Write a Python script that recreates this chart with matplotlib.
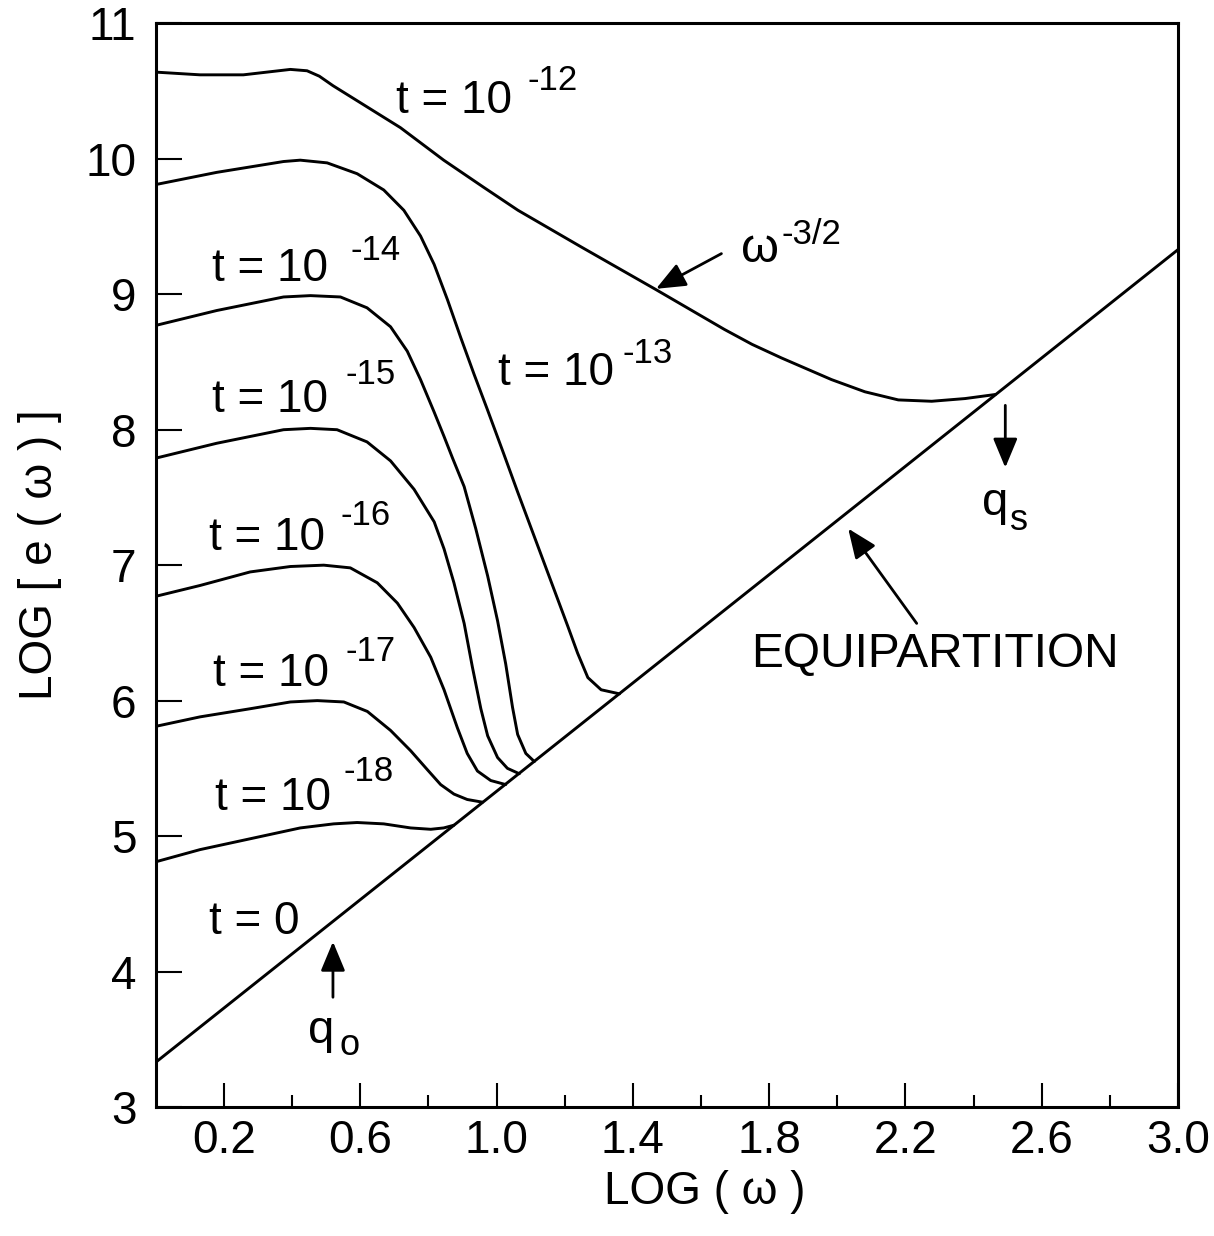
import numpy as np
import matplotlib.pyplot as plt
from matplotlib.ticker import FixedLocator

plt.rcParams['font.family'] = ['Liberation Sans', 'DejaVu Sans']

# spectra: x = log(omega), y = log(e(omega))
x_t12 = [0.0, 0.13, 0.257, 0.395, 0.444, 0.48, 0.52, 0.718, 0.845, 0.962, 1.063, 1.248,
         1.464, 1.669, 1.75, 1.836, 1.983, 2.081, 2.179, 2.277, 2.375, 2.464]
y_t12 = [10.64, 10.62, 10.62, 10.66, 10.65, 10.61, 10.54, 10.23, 9.99, 9.79, 9.62, 9.35,
         9.04, 8.74, 8.63, 8.53, 8.37, 8.28, 8.22, 8.21, 8.23, 8.26]

x_t13 = [0.0, 0.179, 0.375, 0.424, 0.503, 0.591, 0.669, 0.728, 0.777, 0.817, 0.856,
         0.895, 0.934, 0.973, 1.02, 1.062, 1.111, 1.16, 1.209, 1.238, 1.268, 1.307, 1.361]
y_t13 = [9.81, 9.90, 9.98, 9.99, 9.97, 9.89, 9.77, 9.62, 9.43, 9.22, 8.96,
         8.68, 8.41, 8.15, 7.83, 7.54, 7.21, 6.88, 6.55, 6.35, 6.17, 6.08, 6.05]

x_t14 = [0.0, 0.179, 0.375, 0.454, 0.542, 0.62, 0.689, 0.738, 0.777, 0.817, 0.846,
         0.871, 0.905, 0.939, 0.974, 1.003, 1.027, 1.047, 1.062, 1.086, 1.111]
y_t14 = [8.77, 8.88, 8.98, 8.99, 8.98, 8.90, 8.76, 8.58, 8.37, 8.13, 7.95,
         7.79, 7.58, 7.27, 6.92, 6.59, 6.27, 5.95, 5.75, 5.61, 5.55]

x_t15 = [0.0, 0.179, 0.375, 0.454, 0.532, 0.62, 0.689, 0.758, 0.817, 0.846, 0.875,
         0.905, 0.929, 0.954, 0.974, 1.003, 1.032, 1.067]
y_t15 = [7.79, 7.90, 8.00, 8.01, 8.00, 7.91, 7.77, 7.56, 7.32, 7.12, 6.87,
         6.57, 6.25, 5.94, 5.74, 5.58, 5.50, 5.46]

x_t16 = [0.0, 0.13, 0.277, 0.395, 0.493, 0.571, 0.65, 0.709, 0.758, 0.807, 0.846,
         0.885, 0.914, 0.944, 0.983, 1.027]
y_t16 = [6.77, 6.85, 6.95, 6.99, 7.00, 6.98, 6.87, 6.72, 6.54, 6.32, 6.08,
         5.80, 5.61, 5.48, 5.41, 5.38]

x_t17 = [0.0, 0.13, 0.277, 0.395, 0.474, 0.552, 0.621, 0.689, 0.748, 0.797, 0.836,
         0.875, 0.914, 0.959]
y_t17 = [5.81, 5.88, 5.94, 5.99, 6.00, 5.99, 5.92, 5.78, 5.63, 5.49, 5.38,
         5.31, 5.27, 5.25]

x_t18 = [0.0, 0.13, 0.277, 0.424, 0.522, 0.591, 0.669, 0.748, 0.807, 0.845, 0.875]
y_t18 = [4.81, 4.90, 4.98, 5.06, 5.09, 5.10, 5.09, 5.06, 5.05, 5.06, 5.08]

# t = 0 : equipartition line
x_equip = [0.0, 3.0]
y_equip = [3.33, 9.33]

curves = [(x_t12, y_t12), (x_t13, y_t13), (x_t14, y_t14), (x_t15, y_t15),
          (x_t16, y_t16), (x_t17, y_t17), (x_t18, y_t18), (x_equip, y_equip)]

exponents = ['-12', '-13', '-14', '-15', '-16', '-17', '-18']

x_major = [0.2, 0.6, 1.0, 1.4, 1.8, 2.2, 2.6, 3.0]
x_minor = [0.4, 0.8, 1.2, 1.6, 2.0, 2.4, 2.8]
y_major = [3, 4, 5, 6, 7, 8, 9, 10, 11]

# label placement (left x, baseline y) for "t = 10" and its exponent
lab_pos = [(0.704, 10.34), (1.004, 8.33), (0.165, 9.10), (0.165, 8.13),
           (0.155, 7.11), (0.169, 6.11), (0.174, 5.19)]
exp_pos = [(1.092, 10.51), (1.371, 8.49), (0.571, 9.25), (0.557, 8.34),
           (0.542, 7.30), (0.557, 6.29), (0.552, 5.41)]

fig = plt.figure(figsize=(12.14, 12.36), dpi=100)
ax = fig.add_axes([0.1283, 0.1044, 0.8421, 0.8767])

for xs, ys in curves:
    ax.plot(xs, ys, color='black', lw=2.1, solid_joinstyle='round', solid_capstyle='round')

for (lx, ly), (ex, ey), e in zip(lab_pos, exp_pos, exponents):
    ax.text(lx, ly, 't = 10', fontsize=33, ha='left', va='baseline')
    ax.text(ex, ey, e, fontsize=25, ha='left', va='baseline')

ax.text(0.155, 4.28, 't = 0', fontsize=33, ha='left', va='baseline')

arrow = dict(arrowstyle='-|>,head_length=0.6,head_width=0.25', mutation_scale=30,
             color='black', lw=2.0, shrinkA=0, shrinkB=0)

# omega^-3/2
ax.annotate('', xy=(1.468, 9.04), xytext=(1.66, 9.30), arrowprops=arrow)
ax.text(1.718, 9.24, 'ω', fontsize=35, ha='left', va='baseline')
ax.text(1.836, 9.37, '-3/2', fontsize=25, ha='left', va='baseline')

# q_s
ax.annotate('', xy=(2.493, 7.72), xytext=(2.493, 8.18), arrowprops=arrow)
ax.text(2.424, 7.37, 'q', fontsize=34, ha='left', va='baseline')
ax.text(2.507, 7.26, 's', fontsize=26, ha='left', va='baseline')

# q_o
ax.annotate('', xy=(0.52, 4.22), xytext=(0.52, 3.81), arrowprops=arrow)
ax.text(0.448, 3.47, 'q', fontsize=34, ha='left', va='baseline')
ax.text(0.54, 3.38, 'o', fontsize=26, ha='left', va='baseline')

# equipartition
ax.annotate('', xy=(2.032, 7.27), xytext=(2.233, 6.57), arrowprops=arrow)
ax.text(1.748, 6.25, 'EQUIPARTITION', fontsize=34.5, ha='left', va='baseline')

ax.set_xlim(0, 3.0)
ax.set_ylim(3, 11)
ax.xaxis.set_major_locator(FixedLocator(x_major))
ax.xaxis.set_minor_locator(FixedLocator(x_minor))
ax.set_xticklabels([f'{v:.1f}' for v in x_major])
ax.yaxis.set_major_locator(FixedLocator(y_major))
ax.set_yticklabels([str(v) for v in y_major])

ax.tick_params(axis='x', which='major', direction='in', length=17, width=1.5,
               labelsize=33, pad=9, top=False)
ax.tick_params(axis='x', which='minor', direction='in', length=9, width=1.5, top=False)
ax.tick_params(axis='y', which='major', direction='in', length=19, width=1.5,
               labelsize=33, pad=14, right=False)
for sp in ax.spines.values():
    sp.set_linewidth(2.2)

ax.set_xlabel('LOG ( ω )', fontsize=33)
ax.xaxis.set_label_coords(0.537, -0.058)
ax.set_ylabel('LOG [ e ( ω ) ]', fontsize=33)
ax.yaxis.set_label_coords(-0.092, 0.51)

fig.savefig('out.png', dpi=100)
